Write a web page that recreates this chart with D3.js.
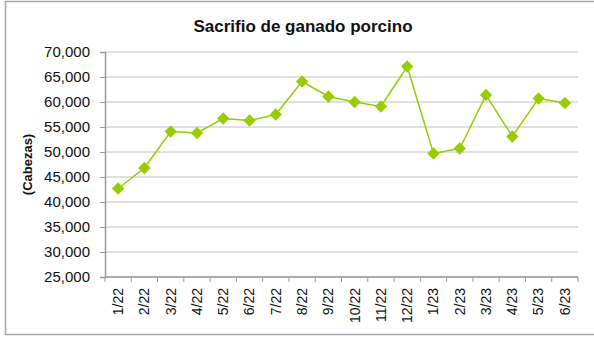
<!DOCTYPE html>
<html>
<head>
<meta charset="utf-8">
<script src="https://cdn.jsdelivr.net/npm/d3@7"></script>
<style>
  html, body { margin: 0; padding: 0; background: #fff; }
  svg { display: block; font-family: "Liberation Sans", Arial, sans-serif; }
</style>
</head>
<body>
<svg id="chart" width="594" height="337"></svg>
<script>
// Monthly hog slaughter, head count
const months = ["1/22","2/22","3/22","4/22","5/22","6/22","7/22","8/22","9/22","10/22","11/22","12/22",
                "1/23","2/23","3/23","4/23","5/23","6/23"];
const heads = [42700, 46800, 54100, 53800, 56700, 56300, 57500, 64100, 61100, 60000, 59100, 67100,
               49700, 50700, 61400, 53100, 60700, 59800];
const yTicks = [25000, 30000, 35000, 40000, 45000, 50000, 55000, 60000, 65000, 70000];
const titleText = "Sacrifio de ganado porcino";
const yTitleText = "(Cabezas)";

const svg = d3.select("#chart");
const W = 594, H = 337;
const m = { left: 105, right: 16, top: 52, bottom: 60 };

const green = "#99cc00";

// outer chart frame
svg.append("rect")
  .attr("x", 5.5).attr("y", 1.5)
  .attr("width", 640).attr("height", 333)
  .attr("fill", "#fff")
  .attr("stroke", "#a6a6a6").attr("stroke-width", 1.5);

const x = d3.scaleBand().domain(months).range([m.left, W - m.right]);
const y = d3.scaleLinear().domain([25000, 70000]).range([H - m.bottom, m.top]);

// horizontal gridlines
svg.append("g")
  .selectAll("line")
  .data(yTicks)
  .join("line")
  .attr("x1", m.left).attr("x2", W - m.right)
  .attr("y1", d => y(d)).attr("y2", d => y(d))
  .attr("stroke", "#c0c0c0").attr("stroke-width", 1);

// y axis
const fmt = d3.format(",");
const yAxis = svg.append("g")
  .attr("transform", `translate(${m.left},0)`)
  .call(d3.axisLeft(y).tickValues(yTicks).tickFormat(fmt).tickSize(5).tickPadding(10));
yAxis.select(".domain").attr("stroke", "#9a9a9a").attr("stroke-width", 1.5);
yAxis.selectAll(".tick line").attr("stroke", "#9a9a9a");
yAxis.selectAll("text").attr("font-size", 15).attr("fill", "#111")
  .attr("font-family", "Liberation Sans, Arial, sans-serif");

// x axis with ticks on category boundaries
const xAxisG = svg.append("g").attr("transform", `translate(0,${H - m.bottom})`);
xAxisG.append("line")
  .attr("x1", m.left).attr("x2", W - m.right)
  .attr("stroke", "#9a9a9a").attr("stroke-width", 1.5);
const bounds = months.map(d => x(d)).concat([x(months[months.length - 1]) + x.bandwidth()]);
xAxisG.selectAll("line.tk")
  .data(bounds)
  .join("line")
  .attr("class", "tk")
  .attr("x1", d => d).attr("x2", d => d)
  .attr("y1", 0).attr("y2", 5)
  .attr("stroke", "#9a9a9a");
xAxisG.selectAll("text")
  .data(months)
  .join("text")
  .attr("transform", d => `translate(${x(d) + x.bandwidth() / 2},11) rotate(-90)`)
  .attr("text-anchor", "end")
  .attr("dy", "0.35em")
  .attr("font-size", 14)
  .attr("fill", "#111")
  .text(d => d);

// series line
const line = d3.line()
  .x((d, i) => x(months[i]) + x.bandwidth() / 2)
  .y(d => y(d));
svg.append("path")
  .datum(heads)
  .attr("d", line)
  .attr("fill", "none")
  .attr("stroke", green)
  .attr("stroke-width", 1.5);

// diamond markers
const diamond = d3.symbol().type(d3.symbolSquare).size(76);
svg.append("g")
  .selectAll("path")
  .data(heads)
  .join("path")
  .attr("d", diamond)
  .attr("transform", (d, i) => `translate(${x(months[i]) + x.bandwidth() / 2},${y(d)}) rotate(45)`)
  .attr("fill", green);

// titles
svg.append("text")
  .attr("x", 303).attr("y", 32)
  .attr("text-anchor", "middle")
  .attr("font-size", 17).attr("font-weight", "bold")
  .attr("fill", "#111")
  .text(titleText);

svg.append("text")
  .attr("transform", `translate(27,${(m.top + H - m.bottom) / 2}) rotate(-90)`)
  .attr("text-anchor", "middle")
  .attr("dy", "0.35em")
  .attr("font-size", 13).attr("font-weight", "bold")
  .attr("fill", "#111")
  .text(yTitleText);
</script>
</body>
</html>
